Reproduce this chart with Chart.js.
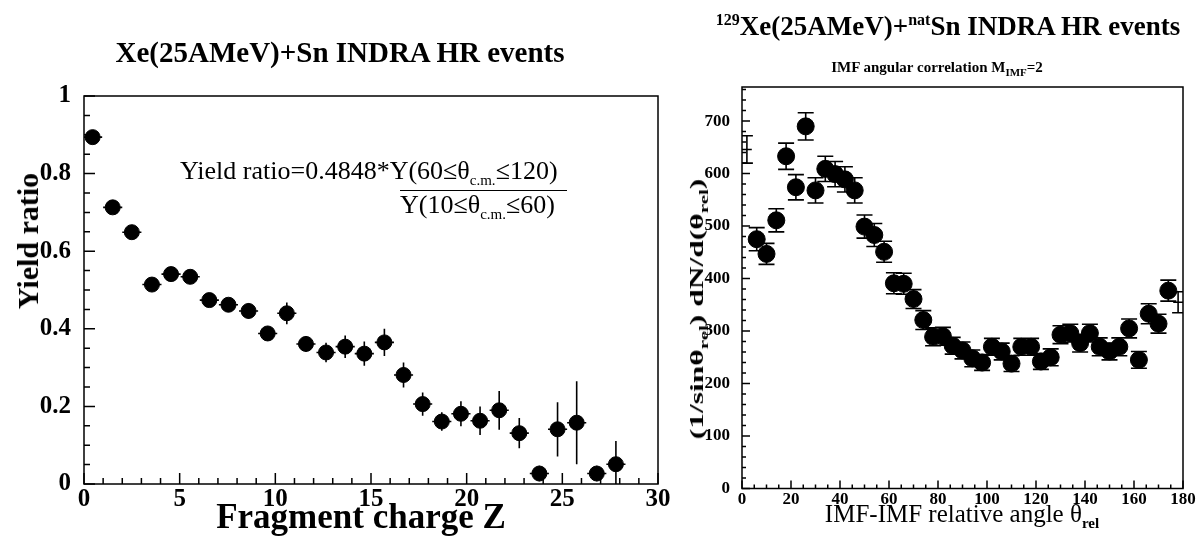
<!DOCTYPE html>
<html>
<head>
<meta charset="utf-8">
<script src="https://cdn.jsdelivr.net/npm/chart.js@4.4.1/dist/chart.umd.min.js"></script>
<style>
  body { margin:0; background:#fff; width:1203px; height:541px; overflow:hidden; position:relative; font-family:"Liberation Serif", serif; color:#000; }
  canvas { position:absolute; top:0; }
  .t { position:absolute; white-space:nowrap; line-height:1; }
  .rot { transform-origin:center center; }
  sub, sup { line-height:0; }
</style>
</head>
<body>
<canvas id="leftChart" width="680" height="541" style="left:0"></canvas>
<canvas id="rightChart" width="523" height="541" style="left:680px"></canvas>

<div class="t" style="left:340px;top:38px;transform:translateX(-50%);font-size:29px;font-weight:bold">Xe(25AMeV)+Sn INDRA HR events</div>
<div class="t" style="left:180px;top:158px;font-size:26px">Yield ratio=0.4848*Y(60≤θ<sub style="font-size:15px">c.m.</sub>≤120)</div>
<div class="t" style="left:400px;top:190px;width:167px;border-top:1.5px solid #000"></div>
<div class="t" style="left:400px;top:192px;font-size:26px">Y(10≤θ<sub style="font-size:15px">c.m.</sub>≤60)</div>
<div class="t rot" style="left:28px;top:241px;font-size:30px;font-weight:bold;transform:translate(-50%,-50%) rotate(-90deg)">Yield ratio</div>
<div class="t" style="left:361px;top:499px;transform:translateX(-50%);font-size:35px;font-weight:bold">Fragment charge Z</div>

<div class="t" style="left:948px;top:13px;transform:translateX(-50%);font-size:27px;font-weight:bold"><sup style="font-size:16px">129</sup>Xe(25AMeV)+<sup style="font-size:16px">nat</sup>Sn INDRA HR events</div>
<div class="t" style="left:937px;top:60px;transform:translateX(-50%);font-size:15px;font-weight:bold">IMF angular correlation M<sub style="font-size:11px">IMF</sub>=2</div>
<div class="t rot" style="left:697px;top:309px;font-size:18px;font-weight:bold;transform:translate(-50%,-50%) rotate(-90deg) scaleX(1.75)">(1/sinθ<sub style="font-size:12px">rel</sub>) dN/d(θ<sub style="font-size:12px">rel</sub>)</div>
<div class="t" style="left:962px;top:501px;transform:translateX(-50%);font-size:25px">IMF-IMF relative angle θ<sub style="font-size:15px;font-weight:bold">rel</sub></div>

<script>
// Left panel: yield ratio vs fragment charge
const zCharge = [0.45, 1.5, 2.5, 3.55, 4.55, 5.55, 6.55, 7.55, 8.6, 9.6, 10.6, 11.6, 12.65, 13.65,
  14.65, 15.7, 16.7, 17.7, 18.7, 19.7, 20.7, 21.7, 22.75, 23.8, 24.75, 25.75, 26.8, 27.8];
const yieldRatio = [0.894, 0.713, 0.649, 0.514, 0.541, 0.534, 0.474, 0.462, 0.446, 0.388, 0.44, 0.361, 0.339, 0.354,
  0.336, 0.365, 0.281, 0.206, 0.161, 0.181, 0.163, 0.19, 0.131, 0.027, 0.141, 0.158, 0.027, 0.051];
const yieldErr = [0.01, 0.01, 0.01, 0.012, 0.012, 0.015, 0.012, 0.015, 0.02, 0.018, 0.028, 0.02, 0.025, 0.029,
  0.031, 0.035, 0.032, 0.03, 0.024, 0.032, 0.037, 0.05, 0.039, 0.02, 0.07, 0.107, 0.02, 0.06];
const zHalfWidth = 0.5;
const leftYTicks = [0, 0.2, 0.4, 0.6, 0.8, 1];
const leftXTicks = [0, 5, 10, 15, 20, 25, 30];

// Right panel: IMF angular correlation
const angleRel = [6, 10, 14, 18, 22, 26, 30, 34, 38, 42, 46, 50, 54, 58, 62, 66, 70, 74, 78, 82, 86, 90,
  94, 98, 102, 106, 110, 114, 118, 122, 126, 130, 134, 138, 142, 146, 150, 154, 158, 162, 166, 170, 174];
const corrYield = [475, 447, 511, 633, 574, 690, 568, 609, 599, 589, 568, 499, 483, 451, 391, 390, 361, 321, 289, 290, 272, 263,
  248, 240, 270, 261, 238, 270, 270, 242, 250, 293, 296, 277, 296, 270, 261, 270, 305, 245, 333, 314, 377];
const corrErr = [22, 20, 22, 25, 24, 26, 24, 24, 24, 24, 24, 22, 22, 20, 20, 20, 18, 18, 17, 17, 16, 16,
  16, 15, 16, 16, 15, 16, 16, 15, 16, 17, 17, 17, 17, 17, 16, 17, 18, 16, 19, 18, 20];
const refAngle = [2, 178];
const refYield = [646, 355];
const refErr = [26, 20];
const rightYTicks = [0, 100, 200, 300, 400, 500, 600, 700];
const rightXTicks = [0, 20, 40, 60, 80, 100, 120, 140, 160, 180];

// frame + inward ticks, ROOT style
const framePlugin = {
  id: 'frame',
  afterDraw(chart, args, opts) {
    const c = chart.ctx, a = chart.chartArea;
    const xs = chart.scales.x, ys = chart.scales.y;
    c.save();
    c.strokeStyle = '#000';
    c.lineWidth = 1.5;
    c.strokeRect(a.left, a.top, a.right - a.left, a.bottom - a.top);
    c.beginPath();
    for (let v = xs.min; v <= xs.max + 1e-9; v += opts.xMinor) {
      const px = xs.getPixelForValue(v);
      const len = Math.abs(v / opts.xMajor - Math.round(v / opts.xMajor)) < 1e-6 ? opts.major : opts.minor;
      c.moveTo(px, a.bottom); c.lineTo(px, a.bottom - len);
    }
    for (let v = ys.min; v <= ys.max + 1e-9; v += opts.yMinor) {
      const py = ys.getPixelForValue(v);
      const len = Math.abs(v / opts.yMajor - Math.round(v / opts.yMajor)) < 1e-6 ? opts.major : opts.minor;
      c.moveTo(a.left, py); c.lineTo(a.left + len, py);
    }
    c.stroke();
    c.restore();
  }
};

// error bars from the data arrays
const errPlugin = {
  id: 'errbars',
  beforeDatasetsDraw(chart, args, opts) {
    const c = chart.ctx, a = chart.chartArea;
    const xs = chart.scales.x, ys = chart.scales.y;
    c.save();
    c.beginPath();
    c.rect(a.left, a.top, a.right - a.left, a.bottom - a.top);
    c.clip();
    c.strokeStyle = '#000';
    c.lineWidth = opts.lineWidth;
    opts.sets.forEach(s => {
      c.beginPath();
      s.x.forEach((xv, i) => {
        const px = xs.getPixelForValue(xv);
        const y0 = ys.getPixelForValue(s.y[i] - s.err[i]);
        const y1 = ys.getPixelForValue(s.y[i] + s.err[i]);
        c.moveTo(px, y0); c.lineTo(px, y1);
        if (s.cap) {
          c.moveTo(px - s.cap, y0); c.lineTo(px + s.cap, y0);
          c.moveTo(px - s.cap, y1); c.lineTo(px + s.cap, y1);
        }
        if (s.xErr) {
          const py = ys.getPixelForValue(s.y[i]);
          c.moveTo(xs.getPixelForValue(xv - s.xErr), py);
          c.lineTo(xs.getPixelForValue(xv + s.xErr), py);
        }
      });
      c.stroke();
    });
    c.restore();
  }
};

function keepTicks(list) {
  return scale => { scale.ticks = list.map(v => ({ value: v })); };
}

const tickFont = size => ({ family: 'Liberation Serif', weight: 'bold', size: size });

new Chart(document.getElementById('leftChart'), {
  type: 'scatter',
  data: {
    datasets: [{
      data: zCharge.map((z, i) => ({ x: z, y: yieldRatio[i] })),
      backgroundColor: '#000', borderColor: '#000', pointRadius: 7.5, pointHoverRadius: 7.5
    }]
  },
  options: {
    responsive: false,
    animation: false,
    events: [],
    layout: { padding: { top: 96, right: 22, left: 0, bottom: 0 } },
    plugins: {
      legend: { display: false }, tooltip: { enabled: false },
      frame: { xMinor: 1, xMajor: 5, yMinor: 0.05, yMajor: 0.2, major: 11, minor: 6 },
      errbars: { lineWidth: 1.6, sets: [{ x: zCharge, y: yieldRatio, err: yieldErr, xErr: zHalfWidth, cap: 0 }] }
    },
    scales: {
      x: {
        type: 'linear', min: 0, max: 30,
        afterBuildTicks: keepTicks(leftXTicks),
        afterFit: s => { s.height = 57; },
        grid: { display: false }, border: { display: false },
        ticks: { color: '#000', font: tickFont(25), padding: -7, maxRotation: 0 }
      },
      y: {
        type: 'linear', min: 0, max: 1,
        afterBuildTicks: keepTicks(leftYTicks),
        afterFit: s => { s.width = 84; },
        grid: { display: false }, border: { display: false },
        ticks: { color: '#000', font: tickFont(25), padding: 5, callback: v => v === 0 || v === 1 ? String(v) : v.toFixed(1) }
      }
    }
  },
  plugins: [errPlugin, framePlugin]
});

new Chart(document.getElementById('rightChart'), {
  type: 'scatter',
  data: {
    datasets: [{
      data: angleRel.map((t, i) => ({ x: t, y: corrYield[i] })),
      backgroundColor: '#000', borderColor: '#000', pointRadius: 8.5, pointHoverRadius: 8.5
    }]
  },
  options: {
    responsive: false,
    animation: false,
    events: [],
    layout: { padding: { top: 87, right: 20, left: 0, bottom: 0 } },
    plugins: {
      legend: { display: false }, tooltip: { enabled: false },
      frame: { xMinor: 5, xMajor: 20, yMinor: 20, yMajor: 100, major: 8, minor: 4 },
      errbars: { lineWidth: 1.6, sets: [
        { x: angleRel, y: corrYield, err: corrErr, cap: 8 },
        { x: refAngle, y: refYield, err: refErr, cap: 6, xErr: 2 }
      ] }
    },
    scales: {
      x: {
        type: 'linear', min: 0, max: 180,
        afterBuildTicks: keepTicks(rightXTicks),
        afterFit: s => { s.height = 52.5; },
        grid: { display: false }, border: { display: false },
        ticks: { color: '#000', font: tickFont(17), padding: -7, maxRotation: 0 }
      },
      y: {
        type: 'linear', min: 0, max: 765,
        afterBuildTicks: keepTicks(rightYTicks),
        afterFit: s => { s.width = 62; },
        grid: { display: false }, border: { display: false },
        ticks: { color: '#000', font: tickFont(17), padding: 4 }
      }
    }
  },
  plugins: [errPlugin, framePlugin]
});
</script>
</body>
</html>
